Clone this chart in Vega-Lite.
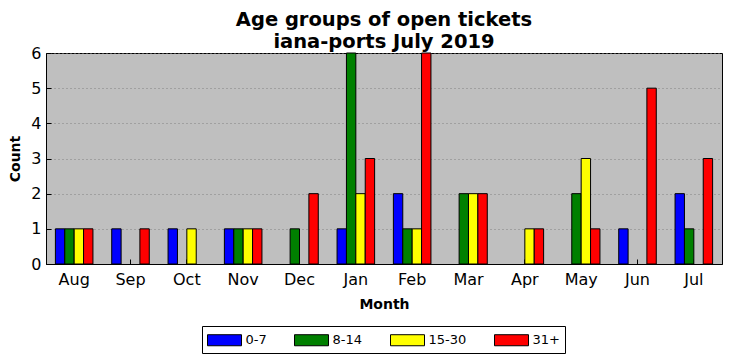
{
  "$schema": "https://vega.github.io/schema/vega-lite/v6.json",
  "autosize": "none",
  "width": 676,
  "height": 211,
  "padding": {"left": 46, "top": 53, "right": 10, "bottom": 97},
  "background": "white",
  "title": {
    "text": ["Age groups of open tickets", "iana-ports July 2019"],
    "font": "DejaVu Sans",
    "fontSize": 19.5,
    "fontWeight": "bold",
    "color": "black",
    "lineHeight": 22,
    "offset": 4,
    "dy": 11
  },
  "config": {
    "font": "DejaVu Sans",
    "view": {"fill": "#bfbfbf", "stroke": "black", "strokeWidth": 1},
    "axis": {
      "labelFont": "DejaVu Sans",
      "labelFontSize": 16,
      "labelColor": "black",
      "titleFont": "DejaVu Sans",
      "titleFontSize": 14,
      "titleFontWeight": "bold",
      "titleColor": "black",
      "domainColor": "black",
      "tickColor": "black"
    }
  },
  "data": {
    "values": [
      {"month": "Aug", "age": "0-7", "count": 1},
      {"month": "Aug", "age": "8-14", "count": 1},
      {"month": "Aug", "age": "15-30", "count": 1},
      {"month": "Aug", "age": "31+", "count": 1},
      {"month": "Sep", "age": "0-7", "count": 1},
      {"month": "Sep", "age": "31+", "count": 1},
      {"month": "Oct", "age": "0-7", "count": 1},
      {"month": "Oct", "age": "15-30", "count": 1},
      {"month": "Nov", "age": "0-7", "count": 1},
      {"month": "Nov", "age": "8-14", "count": 1},
      {"month": "Nov", "age": "15-30", "count": 1},
      {"month": "Nov", "age": "31+", "count": 1},
      {"month": "Dec", "age": "8-14", "count": 1},
      {"month": "Dec", "age": "31+", "count": 2},
      {"month": "Jan", "age": "0-7", "count": 1},
      {"month": "Jan", "age": "8-14", "count": 6},
      {"month": "Jan", "age": "15-30", "count": 2},
      {"month": "Jan", "age": "31+", "count": 3},
      {"month": "Feb", "age": "0-7", "count": 2},
      {"month": "Feb", "age": "8-14", "count": 1},
      {"month": "Feb", "age": "15-30", "count": 1},
      {"month": "Feb", "age": "31+", "count": 6},
      {"month": "Mar", "age": "8-14", "count": 2},
      {"month": "Mar", "age": "15-30", "count": 2},
      {"month": "Mar", "age": "31+", "count": 2},
      {"month": "Apr", "age": "15-30", "count": 1},
      {"month": "Apr", "age": "31+", "count": 1},
      {"month": "May", "age": "8-14", "count": 2},
      {"month": "May", "age": "15-30", "count": 3},
      {"month": "May", "age": "31+", "count": 1},
      {"month": "Jun", "age": "0-7", "count": 1},
      {"month": "Jun", "age": "31+", "count": 5},
      {"month": "Jul", "age": "0-7", "count": 2},
      {"month": "Jul", "age": "8-14", "count": 1},
      {"month": "Jul", "age": "31+", "count": 3}
    ]
  },
  "mark": {"type": "bar", "stroke": "black", "strokeWidth": 1},
  "encoding": {
    "x": {
      "field": "month",
      "type": "nominal",
      "sort": ["Aug", "Sep", "Oct", "Nov", "Dec", "Jan", "Feb", "Mar", "Apr", "May", "Jun", "Jul"],
      "scale": {"paddingInner": 0.3333, "paddingOuter": 0.1667},
      "axis": {
        "title": "Month",
        "labelAngle": 0,
        "tickSize": -5,
        "labelPadding": 12,
        "titlePadding": 10
      }
    },
    "xOffset": {
      "field": "age",
      "type": "nominal",
      "scale": {"domain": ["0-7", "8-14", "15-30", "31+"], "paddingInner": 0, "paddingOuter": 0}
    },
    "y": {
      "field": "count",
      "type": "quantitative",
      "scale": {"domain": [0, 6], "nice": false},
      "axis": {
        "title": "Count",
        "values": [0, 1, 2, 3, 4, 5, 6],
        "labelOverlap": false,
        "tickSize": -5,
        "labelPadding": 10,
        "titlePadding": 8,
        "grid": true,
        "gridColor": "#808080",
        "gridDash": [1, 3],
        "gridWidth": 1,
        "gridOpacity": 1
      }
    },
    "color": {
      "field": "age",
      "type": "nominal",
      "scale": {"domain": ["0-7", "8-14", "15-30", "31+"], "range": ["#0000ff", "#008000", "#ffff00", "#ff0000"]},
      "legend": {
        "title": null,
        "orient": "none",
        "legendX": 156,
        "legendY": 273,
        "direction": "horizontal",
        "symbolType": "M-2,-0.65H2V0.65H-2Z",
        "symbolSize": 289,
        "symbolStrokeColor": "black",
        "symbolStrokeWidth": 1,
        "symbolOpacity": 1,
        "symbolOffset": 8.5,
        "labelFontSize": 13,
        "labelFont": "DejaVu Sans",
        "labelColor": "black",
        "labelOffset": 12,
        "columnPadding": 25,
        "padding": 5,
        "strokeColor": "black",
        "fillColor": "white"
      }
    }
  }
}
